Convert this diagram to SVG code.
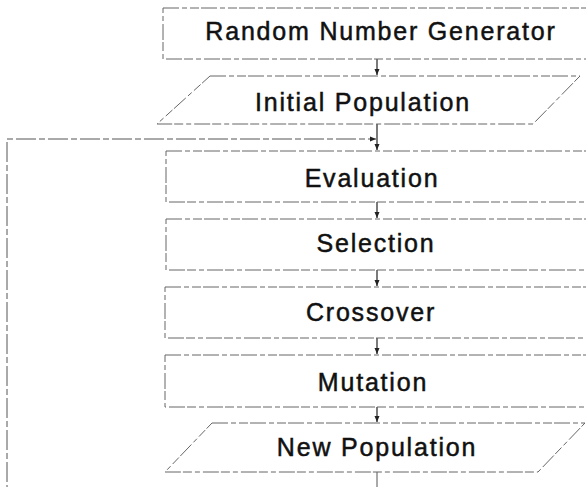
<svg xmlns="http://www.w3.org/2000/svg" width="586" height="487" viewBox="0 0 586 487">
<defs>
<style>
.box{fill:none;stroke:#666;stroke-width:1;stroke-dasharray:16 3 5 3 9 2}
.lbl{font-family:"Liberation Sans",Arial,sans-serif;font-size:25px;letter-spacing:1.8px;fill:#111;stroke:#111;stroke-width:0.5;text-anchor:middle}
.con{fill:none;stroke:#222;stroke-width:1.2}
.loop{fill:none;stroke:#555;stroke-width:1;stroke-dasharray:20 3 6 3}
</style>
<marker id="ah" markerWidth="8" markerHeight="8" refX="6" refY="4" orient="auto" markerUnits="userSpaceOnUse">
<path d="M0,1.5 L6,4 L0,6.5 Z" fill="#222"/>
</marker>
</defs>
<rect width="586" height="487" fill="#fff"/>
<g id="connectors">
<line class="con" x1="377" y1="59" x2="377" y2="75" marker-end="url(#ah)"/>
<line class="con" x1="377" y1="124" x2="377" y2="150" marker-end="url(#ah)"/>
<line class="con" x1="377" y1="202" x2="377" y2="218" marker-end="url(#ah)"/>
<line class="con" x1="377" y1="270" x2="377" y2="286" marker-end="url(#ah)"/>
<line class="con" x1="377" y1="338" x2="377" y2="354" marker-end="url(#ah)"/>
<line class="con" x1="377" y1="407" x2="377" y2="422" marker-end="url(#ah)"/>
<path class="loop" d="M377,472 V500 H7 V139 H376" marker-end="url(#ah)"/>
</g>
<g id="rng">
<rect class="box" x="163" y="8" width="440" height="51"/>
<text class="lbl" x="381" y="40">Random Number Generator</text>
</g>
<g id="initial-population">
<polygon class="box" points="210,76 580,76 533,124 157,124"/>
<text class="lbl" x="363" y="111">Initial Population</text>
</g>
<g id="evaluation">
<rect class="box" x="166" y="151" width="440" height="51"/>
<text class="lbl" x="372" y="187">Evaluation</text>
</g>
<g id="selection">
<rect class="box" x="166" y="219" width="440" height="51"/>
<text class="lbl" x="376" y="252">Selection</text>
</g>
<g id="crossover">
<rect class="box" x="165" y="287" width="440" height="51"/>
<text class="lbl" x="371" y="321">Crossover</text>
</g>
<g id="mutation">
<rect class="box" x="165" y="355" width="440" height="52"/>
<text class="lbl" x="373" y="391">Mutation</text>
</g>
<g id="new-population">
<polygon class="box" points="212,423 585,423 538,472 165,472"/>
<text class="lbl" x="377" y="456">New Population</text>
</g>
</svg>
